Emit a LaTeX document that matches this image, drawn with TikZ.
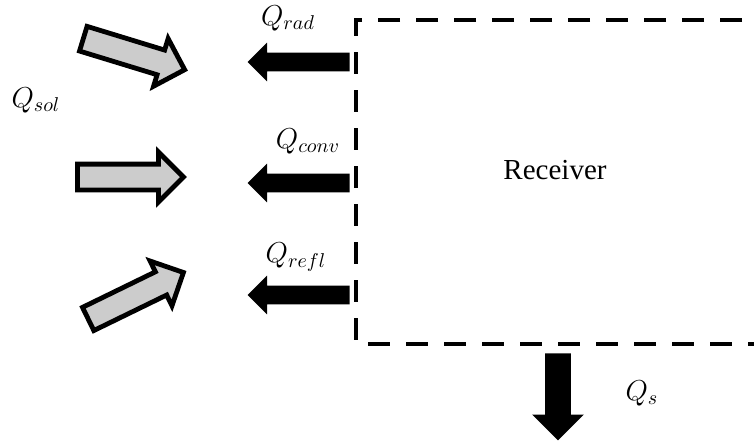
\documentclass[tikz,border=0pt]{standalone}
\usepackage{fontspec}
\setmainfont{Liberation Serif}
\usetikzlibrary{shapes.arrows}

\tikzset{
	inflow/.style = {single arrow, draw, line width=2.4pt, fill=gray!40,
		minimum height=53pt, inner sep=5.25pt, single arrow head extend=6pt, anchor=tail},
	outflow/.style = {single arrow, fill=black,
		minimum height=51pt, inner sep=4.5pt, single arrow head extend=5pt, anchor=tail},
	lbl/.style = {font=\Large}
}

\begin{document}
\begin{tikzpicture}[x=0.5pt, y=-0.5pt]

	\useasboundingbox (0,0) rectangle (754,446);

	% receiver boundary
	\draw[line width=2pt, dash pattern=on 11pt off 8pt] (780,20) -- (356,20) -- (356,344) -- (780,344);
	\node[font=\fontsize{14.5}{17}\selectfont] (recv) at (555,170) {Receiver};

	% solar input
	\node[inflow, rotate=-17] (sol1) at (81,38) {};
	\node[inflow] (sol2) at (75,177) {};
	\node[inflow, rotate=26] (sol3) at (86,320) {};
	\node[lbl] (lsol) at (36,100) {$Q_{sol}$};

	% losses
	\node[outflow, rotate=180] (rad) at (350,62) {};
	\node[outflow, rotate=180] (conv) at (350,183) {};
	\node[outflow, rotate=180] (refl) at (350,295) {};
	\node[lbl] (lrad) at (288,18) {$Q_{rad}$};
	\node[lbl] (lconv) at (308,141) {$Q_{conv}$};
	\node[lbl] (lrefl) at (296,257) {$Q_{refl}$};

	% useful heat
	\node[outflow, rotate=-90, minimum height=43.5pt, inner sep=6.25pt,
		single arrow head extend=6.5pt] (qs) at (558,353) {};
	\node[lbl] (lqs) at (642,393) {$Q_s$};

\end{tikzpicture}
\end{document}
